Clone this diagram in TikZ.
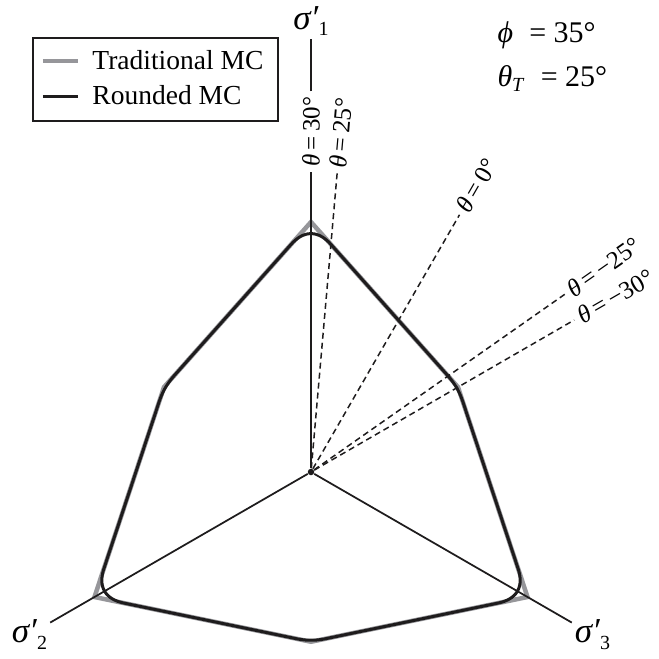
\documentclass[tikz,border=0pt]{standalone}
\usepackage{fontspec}
\setmainfont{Liberation Serif}
\usepackage{tikz}
\usetikzlibrary{positioning}
\definecolor{mcgray}{RGB}{150,150,154}
\definecolor{mcblack}{RGB}{30,28,29}
\newcommand{\sig}[1]{\textit{σ′}\raisebox{-2.6pt}{\fontsize{8}{9}\selectfont #1}}

\begin{document}
\begin{tikzpicture}[x=0.4pt,y=0.4pt,every node/.style={font=\fontsize{11}{13}\selectfont},
  tradmc/.style={draw=mcgray,line width=1.8pt,line join=miter},
  roundmc/.style={draw=mcblack,line width=1.2pt,line join=round},
  axisline/.style={draw=mcblack,line width=0.7pt},
  rayline/.style={draw=mcblack,line width=0.6pt,dash pattern=on 2.4pt off 1.6pt},
  raylabel/.style={anchor=west,inner sep=2pt,font=\fontsize{10}{12}\selectfont},
  axislabel/.style={font=\fontsize{14}{16}\selectfont,inner sep=1pt},
  declare function={lode(\a)=asin(-sin(3*\a))/3; sthree(\a)=-sin(3*\a);
    kmc(\a)=(abs(lode(\a))<=25) ? (cos(lode(\a))-0.331154*sin(lode(\a))) : ((lode(\a)>0) ? (1.66547-0.930826*sthree(\a)) : (1.198646+0.157756*sthree(\a)));
    rmc(\a)=175.11/kmc(\a);}]
  \useasboundingbox (-311,-187) rectangle (348,472);
  % yield surfaces in the deviatoric plane
  \draw[tradmc] (90:250) -- (150:169.75) -- (210:250) -- (270:169.75) -- (330:250) -- (30:169.75) -- cycle;
  \draw[roundmc] plot[domain=0:360,samples=1441] (\x:{rmc(\x)}) -- cycle;
  % axes and Lode angle rays
  \node[circle,fill=mcblack,inner sep=0pt,minimum size=2.6pt] (O) at (0,0) {};
  \node[axislabel,anchor=south] (s1) at (0,433) {\sig{1}};
  \node[axislabel] (s2) at (210:325) {\sig{2}};
  \node[axislabel] (s3) at (330:325) {\sig{3}};
  \node[raylabel,rotate=90] (t30) at (90:300) {\textit{θ}\,=\,30°};
  \node[raylabel,rotate=85] (t25) at (85:300) {\textit{θ}\,=\,25°};
  \node[raylabel,rotate=60] (t0) at (60:297) {\textit{θ}\,=\,0°};
  \node[raylabel,rotate=35] (tm25) at (35:310) {\textit{θ}\,=\,−25°};
  \node[raylabel,rotate=30] (tm30) at (30:304) {\textit{θ}\,=\,−30°};
  \draw[axisline] (O) -- (t30); \draw[axisline] (t30) -- (s1);
  \draw[axisline] (O) -- (s2); \draw[axisline] (O) -- (s3);
  \draw[rayline] (O) -- (t25); \draw[rayline] (O) -- (t0);
  \draw[rayline] (O) -- (tm25); \draw[rayline] (O) -- (tm30);
  % parameters
  \node[anchor=base west,inner sep=0pt,font=\fontsize{12}{14}\selectfont] (phi) at (186,429) {\textit{ϕ}\hspace{3.5pt} = 35°};
  \node[anchor=base west,inner sep=0pt,font=\fontsize{12}{14}\selectfont] (thetaT) at (186,385) {\textit{θ}\textsubscript{\textit{T}}\hspace{3pt} = 25°};
  % legend
  \node[draw=mcblack,line width=0.8pt,anchor=north west,minimum width=98pt,minimum height=33.2pt,inner sep=0pt] (legend) at (-279,435) {};
  \draw[tradmc] (-268,411) -- (-233,411);
  \draw[roundmc] (-268,375) -- (-233,375);
  \node[anchor=base west,inner sep=0pt] (tradtxt) at (-219,402) {Traditional MC};
  \node[anchor=base west,inner sep=0pt] (roundtxt) at (-219,367) {Rounded MC};
\end{tikzpicture}
\end{document}
